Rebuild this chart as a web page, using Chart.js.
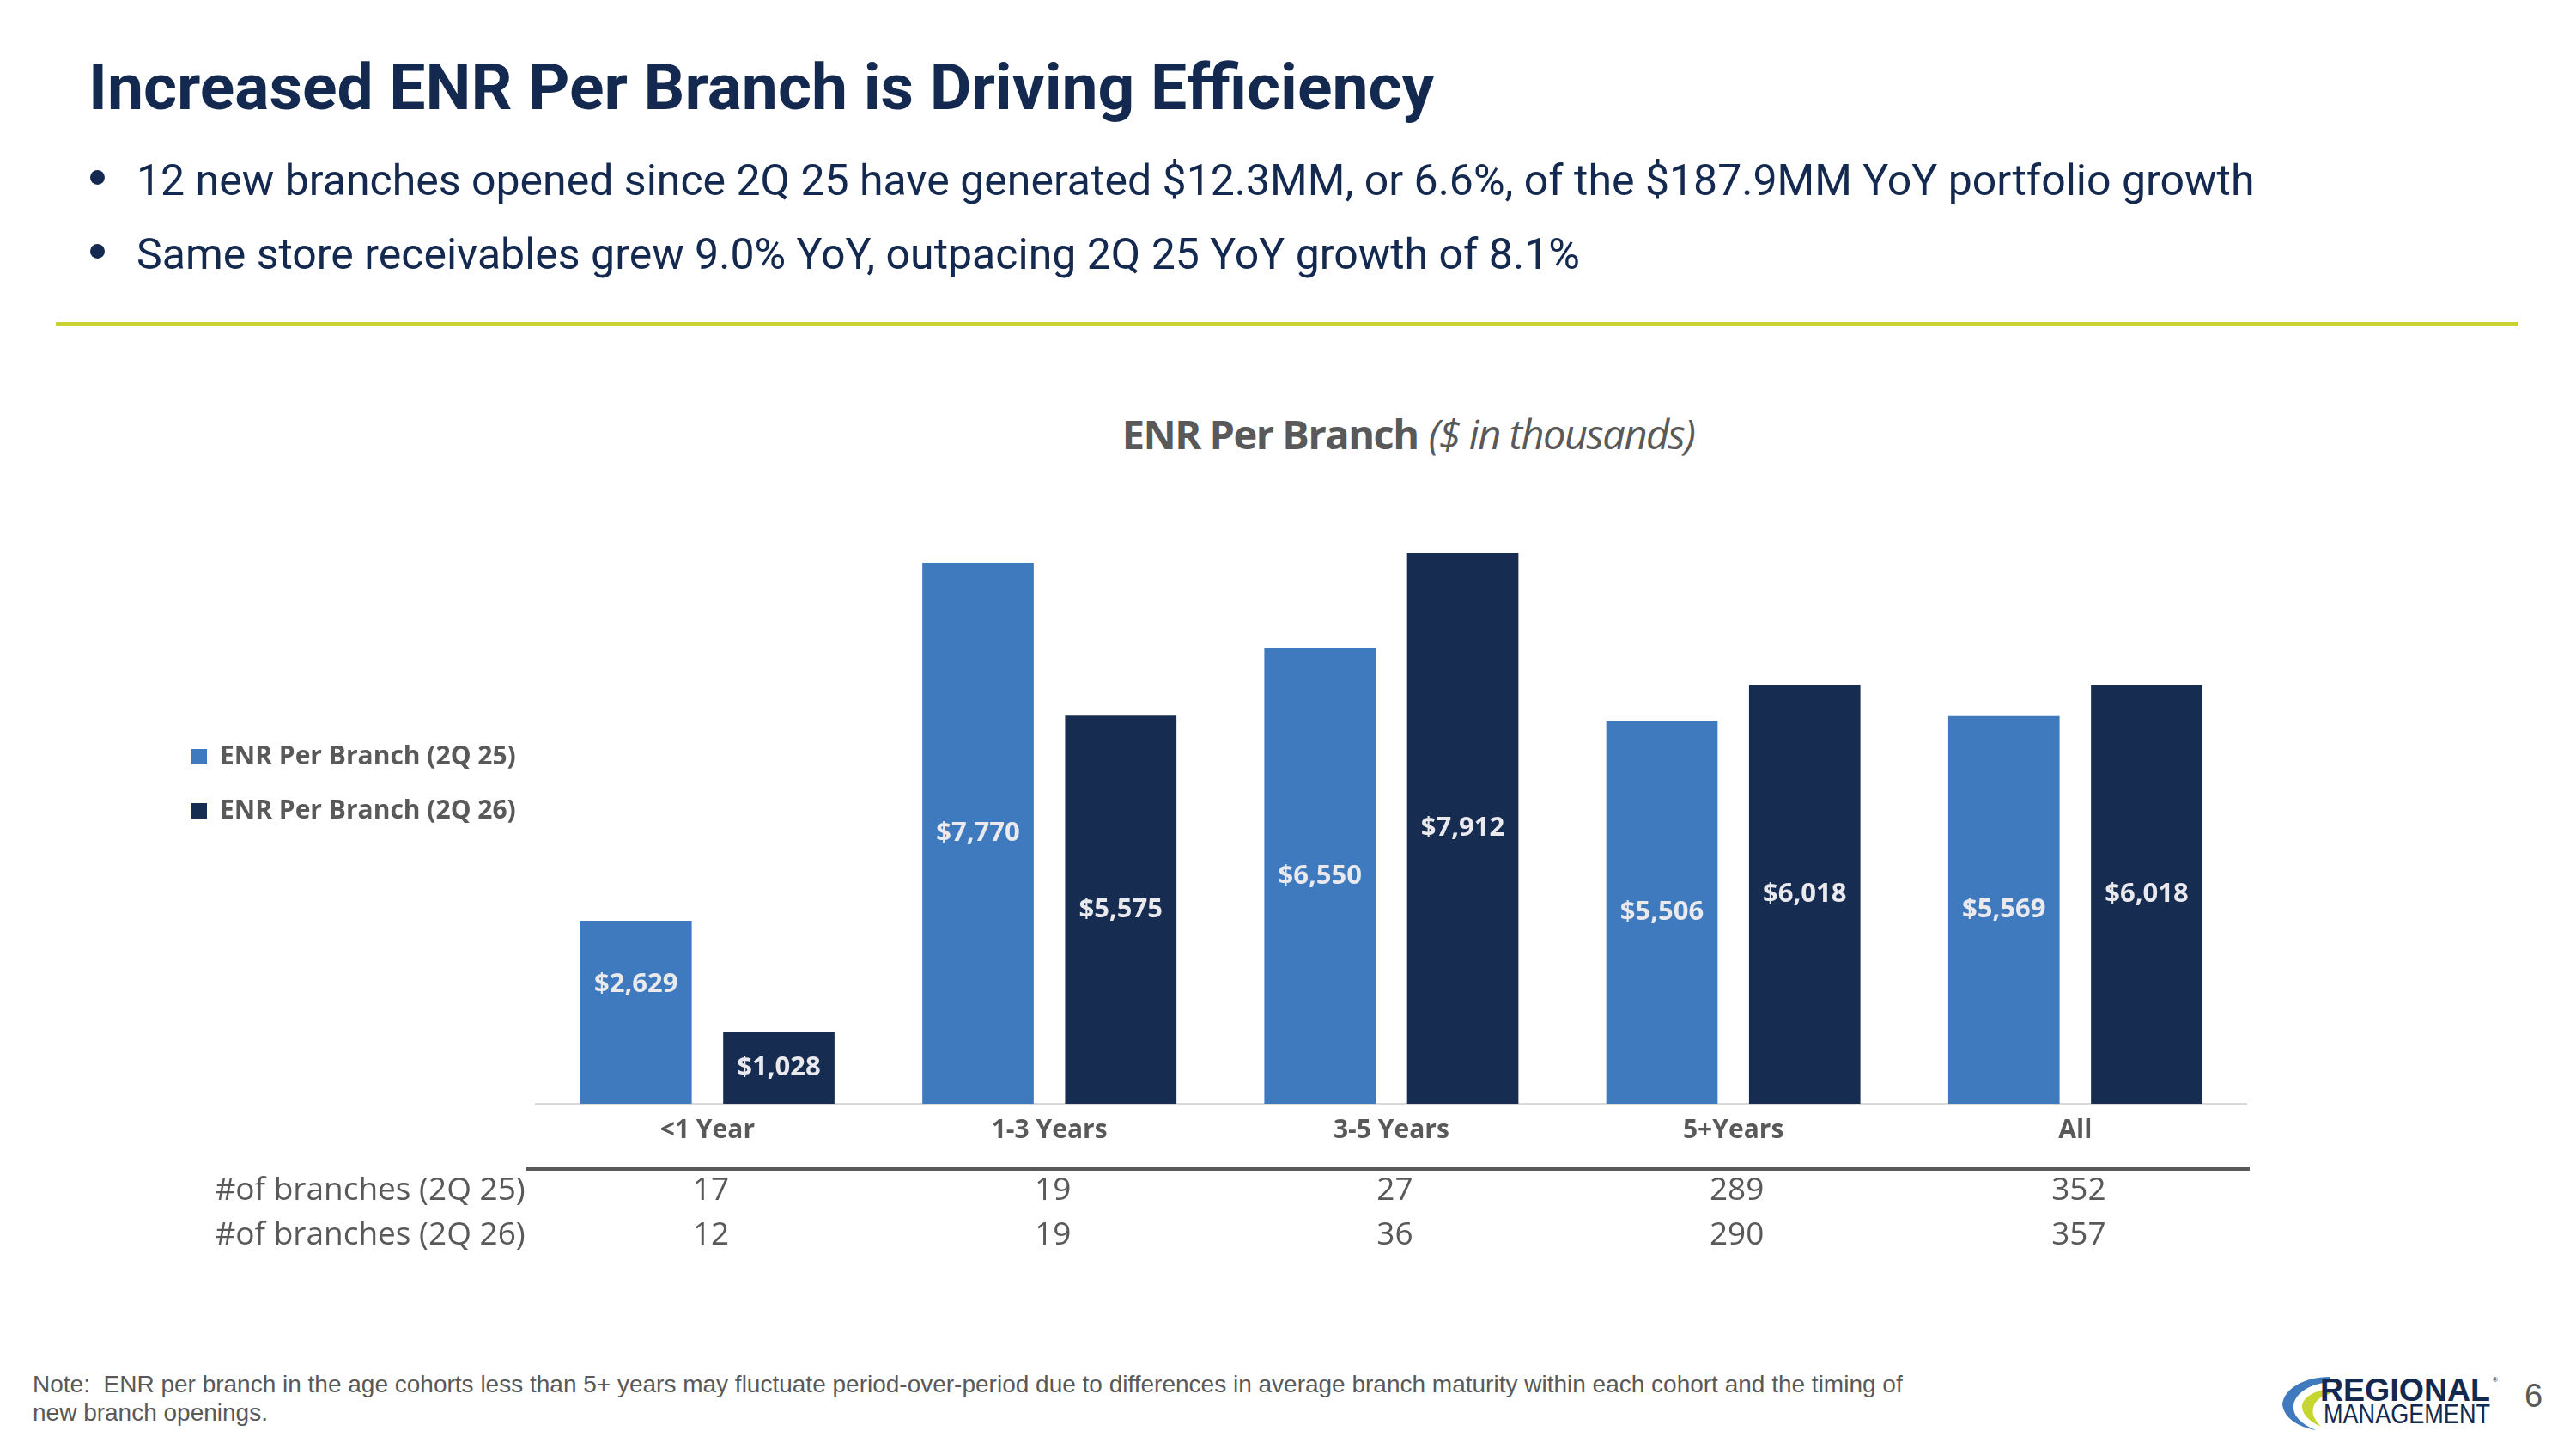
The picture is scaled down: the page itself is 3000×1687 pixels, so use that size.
<!DOCTYPE html>
<html>
<head>
<meta charset="utf-8">
<script src="https://cdn.jsdelivr.net/npm/chart.js@4.4.1/dist/chart.umd.min.js"></script>
<style>
  html, body { margin: 0; padding: 0; background: #fff; }
  body { width: 3000px; height: 1687px; position: relative; overflow: hidden; font-family: Roboto, sans-serif; }
  .title { position: absolute; left: 103px; top: 57px; font: 700 75px Roboto; color: #14294f; white-space: nowrap; }
  .bullets { position: absolute; left: 104px; top: 181px; margin: 0; padding: 0; list-style: none; }
  .bullets li { font: 400 50px Roboto; color: #14294f; height: 86px; position: relative; padding-left: 55px; white-space: nowrap; }
  .bullets li::before { content: ""; position: absolute; left: 1px; top: 17px; width: 17px; height: 17px; border-radius: 50%; background: #14294f; }
  .rule { position: absolute; left: 65px; top: 375px; width: 2868px; height: 4px; background: #c9d230; }
  .ctitle { position: absolute; left: 0; width: 3280px; top: 473px; text-align: center; font-family: "Open Sans"; color: #595959; font-size: 47px; white-space: nowrap; }
  .ctitle b { font-weight: 700; letter-spacing: -1.5px; }
  .ctitle i { font-weight: 400; letter-spacing: -1.5px; }
  #wrap { position: absolute; left: 0; top: 420px; width: 3000px; height: 1140px; }
  .note { position: absolute; left: 38px; top: 1595px; font: 400 28px "Liberation Sans"; color: #595959; line-height: 33px; }
  .page { position: absolute; left: 2940px; top: 1604px; font: 400 38px "Liberation Sans"; color: #595959; }
  .logo { position: absolute; left: 2655px; top: 1595px; }
</style>
</head>
<body>
<div class="title">Increased ENR Per Branch is Driving Efficiency</div>
<ul class="bullets">
  <li>12 new branches opened since 2Q 25 have generated $12.3MM, or 6.6%, of the $187.9MM YoY portfolio growth</li>
  <li>Same store receivables grew 9.0% YoY, outpacing 2Q 25 YoY growth of 8.1%</li>
</ul>
<div class="rule"></div>
<div class="ctitle"><b>ENR Per Branch</b> <i>($ in thousands)</i></div>
<div id="wrap"><canvas id="enrChart"></canvas></div>
<div class="note">Note:&nbsp; ENR per branch in the age cohorts less than 5+ years may fluctuate period-over-period due to differences in average branch maturity within each cohort and the timing of<br>new branch openings.</div>
<svg class="logo" width="270" height="80" viewBox="0 0 270 80">
  <path d="M58 8 C28 8 5 22 3 40 C5 56 21 66 42 70 C23 62 15 52 16 42 C17 28 34 16 58 14 Z" fill="#3f7abf"/>
  <path d="M58 22 C40 24 27 32 26 42 C26 52 35 60 48 66 C40 58 37 50 39 44 C41 36 48 30 58 28 Z" fill="#c5d630"/>
  <text x="47" y="36" font-family="Liberation Sans" font-weight="700" font-size="36" fill="#14294f" textLength="198" lengthAdjust="spacingAndGlyphs">REGIONAL</text>
  <text x="248" y="14" font-family="Liberation Sans" font-size="8" fill="#14294f">&#174;</text>
  <text x="51" y="62" font-family="Liberation Sans" font-size="31" fill="#14294f" textLength="194" lengthAdjust="spacingAndGlyphs">MANAGEMENT</text>
</svg>
<div class="page">6</div>

<script>
// chart data
const cohorts = ['<1 Year', '1-3 Years', '3-5 Years', '5+Years', 'All'];
const seriesNames = ['ENR Per Branch (2Q 25)', 'ENR Per Branch (2Q 26)'];
const enr2Q25 = [2629, 7770, 6550, 5506, 5569];
const enr2Q26 = [1028, 5575, 7912, 6018, 6018];
const rowLabels = ['#of branches (2Q 25)', '#of branches (2Q 26)'];
const branches2Q25 = [17, 19, 27, 289, 352];
const branches2Q26 = [12, 19, 36, 290, 357];

const lightBlue = '#3f7abf';
const darkNavy = '#162c51';
const grayText = '#595959';

// value labels in the middle of each bar
const barLabels = {
    id: 'barLabels',
    afterDatasetsDraw(chart, args, opts) {
        const ctx = chart.ctx;
        const nudge = opts.nudge || {};
        ctx.save();
        ctx.font = '700 31px "Open Sans"';
        ctx.fillStyle = '#e9e9ee';
        ctx.textAlign = 'center';
        ctx.textBaseline = 'middle';
        chart.data.datasets.forEach((ds, di) => {
            chart.getDatasetMeta(di).data.forEach((bar, i) => {
                const v = ds.data[i];
                const dy = (nudge[di] && nudge[di][i]) || 0;
                ctx.fillText('$' + v.toLocaleString('en-US'), bar.x, (bar.y + bar.base) / 2 + dy);
            });
        });
        ctx.restore();
    }
};

// branch count table under the axis
const branchTable = {
    id: 'branchTable',
    afterDraw(chart) {
        const ctx = chart.ctx;
        const xs = chart.scales.x;
        const top = chart.chartArea.bottom;
        ctx.save();
        ctx.strokeStyle = grayText;
        ctx.lineWidth = 4;
        ctx.beginPath();
        ctx.moveTo(xs.left - 12, top + 76);
        ctx.lineTo(xs.right + 4, top + 76);
        ctx.stroke();

        ctx.fillStyle = grayText;
        ctx.textBaseline = 'middle';
        ctx.font = '400 37px "Open Sans"';
        const rows = [branches2Q25, branches2Q26];
        rows.forEach((row, r) => {
            const y = top + 101 + r * 52;
            ctx.textAlign = 'right';
            ctx.fillText(rowLabels[r], xs.left - 13, y);
            ctx.textAlign = 'center';
            row.forEach((n, i) => {
                ctx.fillText(String(n), xs.getPixelForValue(i) + 4, y);
            });
        });
        ctx.restore();
    }
};

new Chart(document.getElementById('enrChart'), {
    type: 'bar',
    data: {
        labels: cohorts,
        datasets: [
            { label: seriesNames[0], data: enr2Q25, backgroundColor: lightBlue },
            { label: seriesNames[1], data: enr2Q26, backgroundColor: darkNavy }
        ]
    },
    options: {
        responsive: true,
        maintainAspectRatio: false,
        animation: false,
        categoryPercentage: 0.835,
        barPercentage: 0.78,
        layout: { padding: { left: 190, right: 384, top: 80, bottom: 235 } },
        plugins: {
            legend: {
                position: 'left',
                align: 'center',
                labels: {
                    boxWidth: 18,
                    boxHeight: 18,
                    padding: 33,
                    color: grayText,
                    font: { family: 'Open Sans', weight: '700', size: 30 }
                }
            },
            tooltip: { enabled: false },
            barLabels: { nudge: { 0: { 0: -32 } } }
        },
        scales: {
            x: {
                grid: { display: false, drawTicks: false },
                border: { display: true, color: '#d9d9d9', width: 3 },
                ticks: { color: grayText, padding: 13, font: { family: 'Open Sans', weight: '700', size: 30 } },
                afterFit: (s) => { s.height = 40; }
            },
            y: {
                display: true,
                min: 0,
                max: 9690,
                grid: { display: false },
                border: { display: false },
                ticks: { display: false },
                afterFit: (s) => { s.width = 14; }
            }
        }
    },
    plugins: [barLabels, branchTable]
});
</script>
</body>
</html>
